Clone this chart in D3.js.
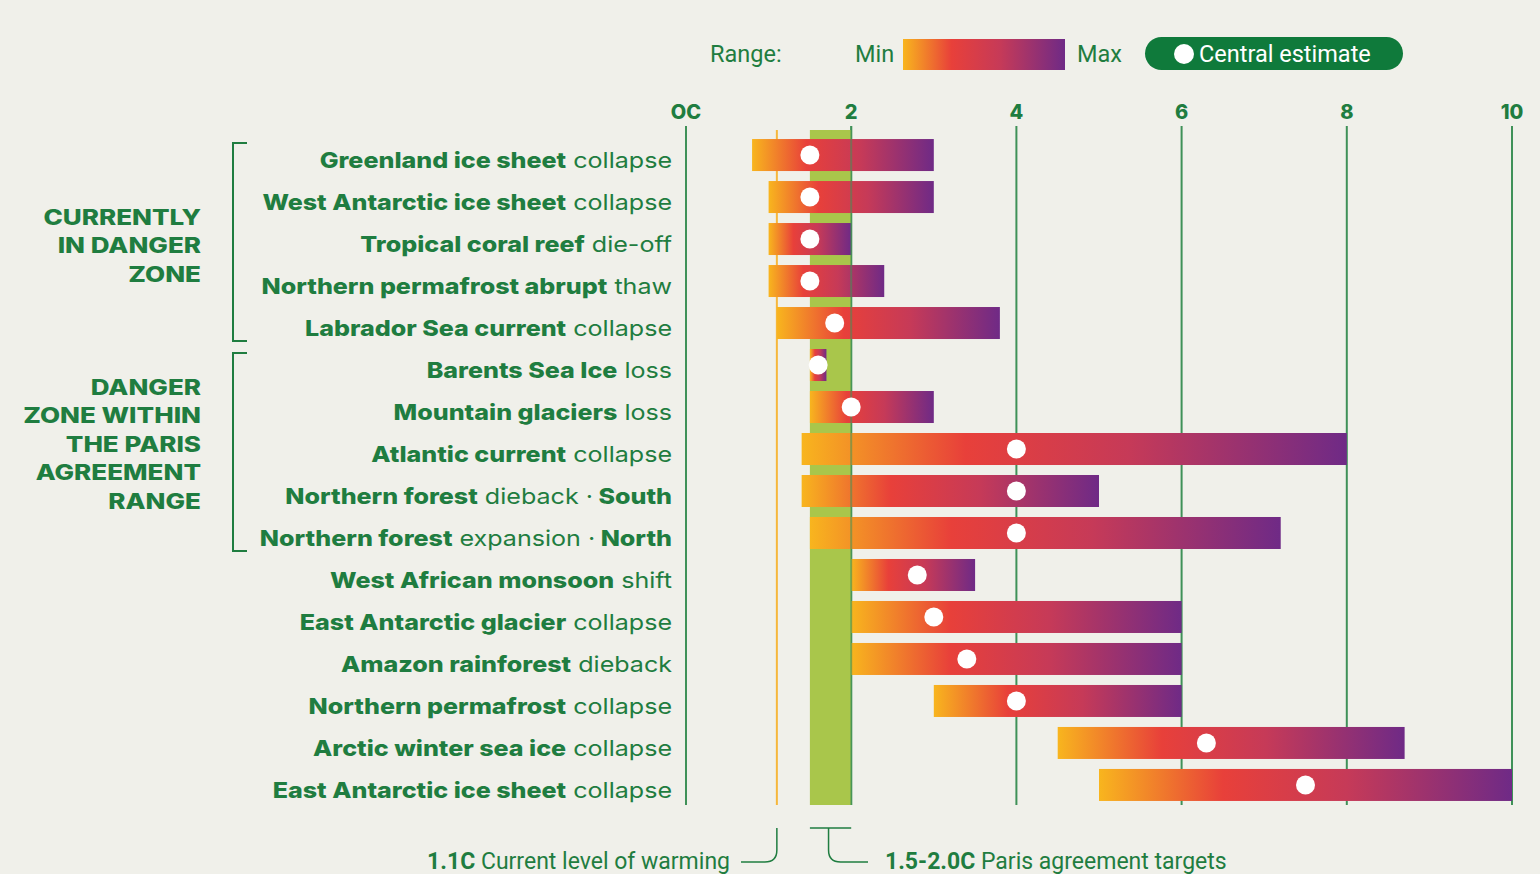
<!DOCTYPE html>
<html lang="en">
<head>
<meta charset="UTF-8">
<title>Climate tipping points</title>
<script src="https://d3js.org/d3.v7.min.js"></script>
<style>
  html, body { margin: 0; padding: 0; background: #f0f0ea; }
  svg { display: block; }
</style>
</head>
<body>
<svg id="chart"></svg>
<script>
    // tipping points, top to bottom
    const labelBold = ["Greenland ice sheet", "West Antarctic ice sheet", "Tropical coral reef", "Northern permafrost abrupt",
        "Labrador Sea current", "Barents Sea Ice", "Mountain glaciers", "Atlantic current", "Northern forest",
        "Northern forest", "West African monsoon", "East Antarctic glacier", "Amazon rainforest",
        "Northern permafrost", "Arctic winter sea ice", "East Antarctic ice sheet"];
    const labelRest = ["collapse", "collapse", "die-off", "thaw", "collapse", "loss", "loss", "collapse",
        "dieback ·", "expansion ·", "shift", "collapse", "dieback", "collapse", "collapse", "collapse"];
    const labelTail = ["", "", "", "", "", "", "", "", "South", "North", "", "", "", "", "", ""];

    // warming thresholds (degrees C)
    const minTemp     = [0.8, 1.0, 1.0, 1.0, 1.1, 1.5, 1.5, 1.4, 1.4, 1.5, 2.0, 2.0, 2.0, 3.0, 4.5, 5.0];
    const maxTemp     = [3.0, 3.0, 2.0, 2.4, 3.8, 1.7, 3.0, 8.0, 5.0, 7.2, 3.5, 6.0, 6.0, 6.0, 8.7, 10.0];
    const centralTemp = [1.5, 1.5, 1.5, 1.5, 1.8, 1.6, 2.0, 4.0, 4.0, 4.0, 2.8, 3.0, 3.4, 4.0, 6.3, 7.5];

    const tickValues = [0, 2, 4, 6, 8, 10];
    const tickLabels = ["OC", "2", "4", "6", "8", "10"];

    const groupNames = [["CURRENTLY", "IN DANGER", "ZONE"], ["DANGER", "ZONE WITHIN", "THE PARIS", "AGREEMENT", "RANGE"]];
    const groupRows = [[0, 4], [5, 9]];

    const currentWarming = 1.1;
    const parisRange = [1.5, 2.0];

    const width = 1540, height = 874;
    const green = "#1f7d40", gridGreen = "#3f9158";

    const svg = d3.select("#chart").attr("width", width).attr("height", height);

    const x = d3.scaleLinear().domain([0, 10]).range([686, 1512]);
    const y = d3.scaleBand().domain(d3.range(labelBold.length)).range([134, 806]).paddingInner(0.238).paddingOuter(0.12);

    const plotTop = 126, plotBottom = 805;

    // gradient for range bars
    const defs = svg.append("defs");
    const grad = defs.append("linearGradient").attr("id", "rangeGrad");
    [["0%", "#f8b51e"], ["30%", "#e8403a"], ["60%", "#c63a58"], ["100%", "#6f2a86"]].forEach(s => {
        grad.append("stop").attr("offset", s[0]).attr("stop-color", s[1]);
    });

    // grid lines
    svg.append("g").selectAll("line").data(tickValues).join("line")
        .attr("x1", d => x(d)).attr("x2", d => x(d))
        .attr("y1", plotTop).attr("y2", plotBottom)
        .attr("stroke", gridGreen).attr("stroke-width", 2);

    // paris band + current warming line
    svg.append("rect")
        .attr("x", x(parisRange[0])).attr("width", x(parisRange[1]) - x(parisRange[0]))
        .attr("y", plotTop + 4).attr("height", plotBottom - plotTop - 4)
        .attr("fill", "#a9c64b");
    svg.append("line")
        .attr("x1", x(currentWarming)).attr("x2", x(currentWarming))
        .attr("y1", plotTop + 4).attr("y2", plotBottom)
        .attr("stroke", "#f6b73c").attr("stroke-width", 2);

    // tick labels
    svg.append("g").selectAll("text").data(tickValues).join("text")
        .attr("x", d => x(d)).attr("y", 119)
        .attr("text-anchor", "middle")
        .attr("font-family", "Inter, sans-serif").attr("font-weight", 800).attr("font-size", 20)
        .attr("fill", green)
        .text((d, i) => tickLabels[i]);

    // bars
    const rows = d3.range(labelBold.length);
    svg.append("g").selectAll("rect").data(rows).join("rect")
        .attr("x", i => x(minTemp[i]))
        .attr("width", i => x(maxTemp[i]) - x(minTemp[i]))
        .attr("y", i => y(i)).attr("height", y.bandwidth())
        .attr("fill", "url(#rangeGrad)");

    // 2C edge line shows through
    svg.append("line")
        .attr("x1", x(2)).attr("x2", x(2)).attr("y1", plotTop).attr("y2", plotBottom)
        .attr("stroke", gridGreen).attr("stroke-width", 2).attr("opacity", 0.55);

    // central estimates
    svg.append("g").selectAll("circle").data(rows).join("circle")
        .attr("cx", i => x(centralTemp[i]))
        .attr("cy", i => y(i) + y.bandwidth() / 2)
        .attr("r", 9.5).attr("fill", "#fff");

    // row labels (font is stretched a bit wider, like the original)
    const lab = svg.append("g").attr("transform", "translate(672,0) scale(1.14,1)")
        .selectAll("text").data(rows).join("text")
        .attr("x", 0).attr("y", i => y(i) + y.bandwidth() / 2 + 13)
        .attr("text-anchor", "end")
        .attr("font-family", "Inter, sans-serif").attr("font-size", 22)
        .attr("fill", green);
    lab.append("tspan").attr("font-weight", 800).text(i => labelBold[i]);
    lab.append("tspan").attr("font-weight", 400).text(i => " " + labelRest[i]);
    lab.append("tspan").attr("font-weight", 800).text(i => labelTail[i] ? " " + labelTail[i] : "");

    // group brackets and names
    groupRows.forEach((gr, gi) => {
        const top = y(gr[0]) + 4, bot = y(gr[1]) + y.bandwidth() + 2;
        svg.append("path")
            .attr("d", `M247,${top}H233V${bot}H247`)
            .attr("fill", "none").attr("stroke", green).attr("stroke-width", 2);
        const mid = (top + bot) / 2 + (gi ? -8 : 3);
        const lines = groupNames[gi];
        const lh = 28.5;
        svg.append("g").attr("transform", "translate(201,0) scale(1.24,1)")
            .selectAll("text").data(lines).join("text")
            .attr("x", 0)
            .attr("y", (d, k) => mid + (k - (lines.length - 1) / 2) * lh + 8)
            .attr("text-anchor", "end")
            .attr("font-family", "Inter, sans-serif").attr("font-weight", 800).attr("font-size", 21)
            .attr("fill", green)
            .text(d => d);
    });

    // legend
    const leg = svg.append("g").attr("font-family", "Roboto, sans-serif").attr("font-size", 23.5).attr("fill", green);
    leg.append("text").attr("x", 710).attr("y", 62).text("Range:");
    leg.append("text").attr("x", 855).attr("y", 62).text("Min");
    leg.append("rect").attr("x", 903).attr("y", 39).attr("width", 162).attr("height", 31).attr("fill", "url(#rangeGrad)");
    leg.append("text").attr("x", 1077).attr("y", 62).text("Max");
    leg.append("rect").attr("x", 1145).attr("y", 37).attr("width", 258).attr("height", 33).attr("rx", 16.5)
        .attr("fill", "#0f7a3b");
    leg.append("circle").attr("cx", 1184).attr("cy", 54).attr("r", 10).attr("fill", "#fff");
    leg.append("text").attr("x", 1199).attr("y", 62).attr("fill", "#fff").text("Central estimate");

    // annotations below
    const ann = svg.append("g").attr("fill", "none").attr("stroke", green).attr("stroke-width", 1.5);
    const xc = x(currentWarming);
    ann.append("path").attr("d", `M${xc},828V850Q${xc},862 ${xc - 12},862H741`);
    const xp = (x(parisRange[0]) + x(parisRange[1])) / 2 - 2;
    ann.append("path").attr("d", `M${x(parisRange[0])},828H${x(parisRange[1])}`);
    ann.append("path").attr("d", `M${xp},828V850Q${xp},862 ${xp + 12},862H868`);

    const note = svg.append("g").attr("font-family", "Roboto, sans-serif").attr("font-size", 23).attr("fill", green);
    const n1 = note.append("text").attr("x", 730).attr("y", 869).attr("text-anchor", "end");
    n1.append("tspan").attr("font-weight", 700).text("1.1C");
    n1.append("tspan").text(" Current level of warming");
    const n2 = note.append("text").attr("x", 885).attr("y", 869);
    n2.append("tspan").attr("font-weight", 700).text("1.5-2.0C");
    n2.append("tspan").text(" Paris agreement targets");
</script>
</body>
</html>
